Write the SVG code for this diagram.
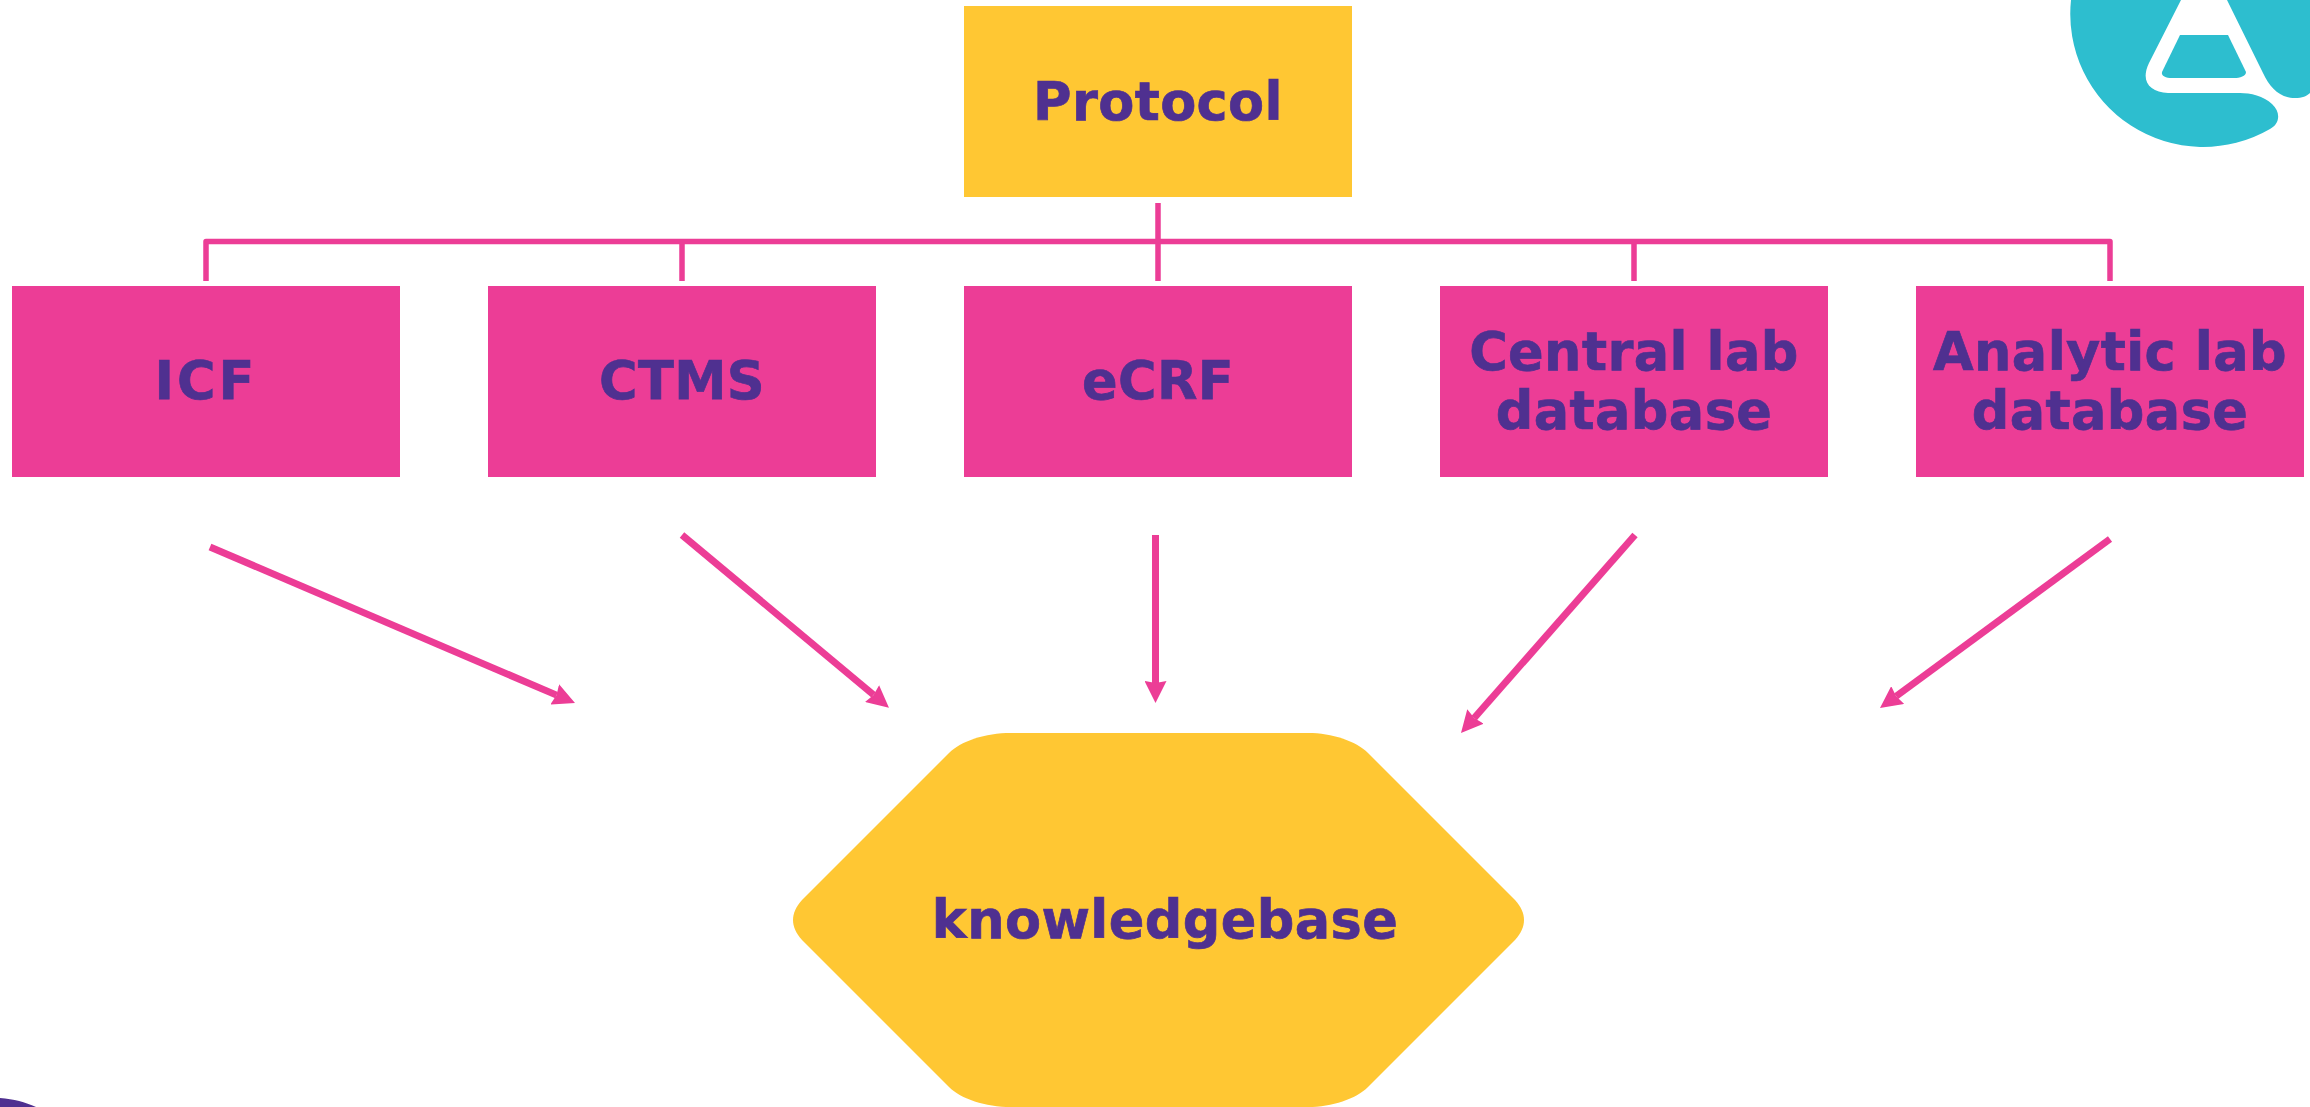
<svg xmlns="http://www.w3.org/2000/svg" width="2310" height="1107" viewBox="0 0 2310 1107">
<style>
.pink{fill:#EC3D96}
.yellow{fill:#FFC733}
text{font-family:"DejaVu Sans","Liberation Sans",sans-serif;font-weight:700;font-size:52.5px;letter-spacing:.4px;fill:#4F3090;stroke:#4F3090;stroke-width:.7;text-anchor:middle}
.conn{fill:none;stroke:#EC3D96;stroke-width:5.5;stroke-linejoin:round}
.arrow{fill:none;stroke:#EC3D96;stroke-width:7;marker-end:url(#ah)}
</style>
<defs>
<marker id="ah" markerUnits="userSpaceOnUse" markerWidth="22" markerHeight="22" refX="2" refY="11" orient="auto" viewBox="0 0 22 22">
<path d="M0,0L22,11L0,22L2,11Z" fill="#EC3D96"/>
</marker>
</defs>
<rect width="2310" height="1107" fill="#FFFFFF"/>
<g id="logo">
<path fill="#2DBECF" fill-rule="evenodd" d="M2071,0A133,133 0 0 0 2270,129C2280,124 2281,112 2272,104C2264,96 2250,93 2240,93L2168,93C2150,92 2140,82 2149,63L2181,0ZM2227,0L2263,73C2270,88 2280,98 2295,98C2302,98 2307,96 2310,93L2310,0Z"/>
<path fill="#2DBECF" d="M2180,35L2228,35L2246,72C2246,76 2240,78 2234,78L2172,78C2166,78 2161,76 2162,72Z"/>
</g>
<g id="corner"><path fill="#4F3090" d="M0,1098C14,1099 25,1102 36,1107L0,1107Z"/></g>
<g id="connectors">
<path class="conn" d="M206,281V241.5H2110V281M682,241.5V281M1158,203V281M1634,241.5V281"/>
<path class="arrow" d="M210,547L556.6,695.1"/>
<path class="arrow" d="M682,535L873.6,694.9"/>
<path class="arrow" d="M1155.5,535V683"/>
<path class="arrow" d="M1635,535L1474.2,718"/>
<path class="arrow" d="M2110,539L1896.1,696.2"/>
</g>
<g id="protocol"><rect class="yellow" x="964" y="6" width="388" height="191"/><text x="1158" y="120">Protocol</text></g>
<g id="icf"><rect class="pink" x="12" y="286" width="388" height="191"/><text x="206" y="399" style="letter-spacing:3px">ICF</text></g>
<g id="ctms"><rect class="pink" x="488" y="286" width="388" height="191"/><text x="682" y="399">CTMS</text></g>
<g id="ecrf"><rect class="pink" x="964" y="286" width="388" height="191"/><text x="1158" y="399">eCRF</text></g>
<g id="central"><rect class="pink" x="1440" y="286" width="388" height="191"/><text x="1634" y="370">Central lab</text><text x="1634" y="429">database</text></g>
<g id="analytic"><rect class="pink" x="1916" y="286" width="388" height="191"/><text x="2110" y="370">Analytic lab</text><text x="2110" y="429">database</text></g>
<g id="knowledgebase"><path class="yellow" d="M1011,733L1308,733C1332,733 1356,741 1368,753L1515,900C1527,913 1527,927 1515,940L1368,1087C1356,1099 1332,1107 1308,1107L1011,1107C985,1107 961,1099 949,1087L802,940C790,927 790,913 802,900L949,753C961,741 985,733 1011,733Z"/><text x="1165" y="938">knowledgebase</text></g>
</svg>
